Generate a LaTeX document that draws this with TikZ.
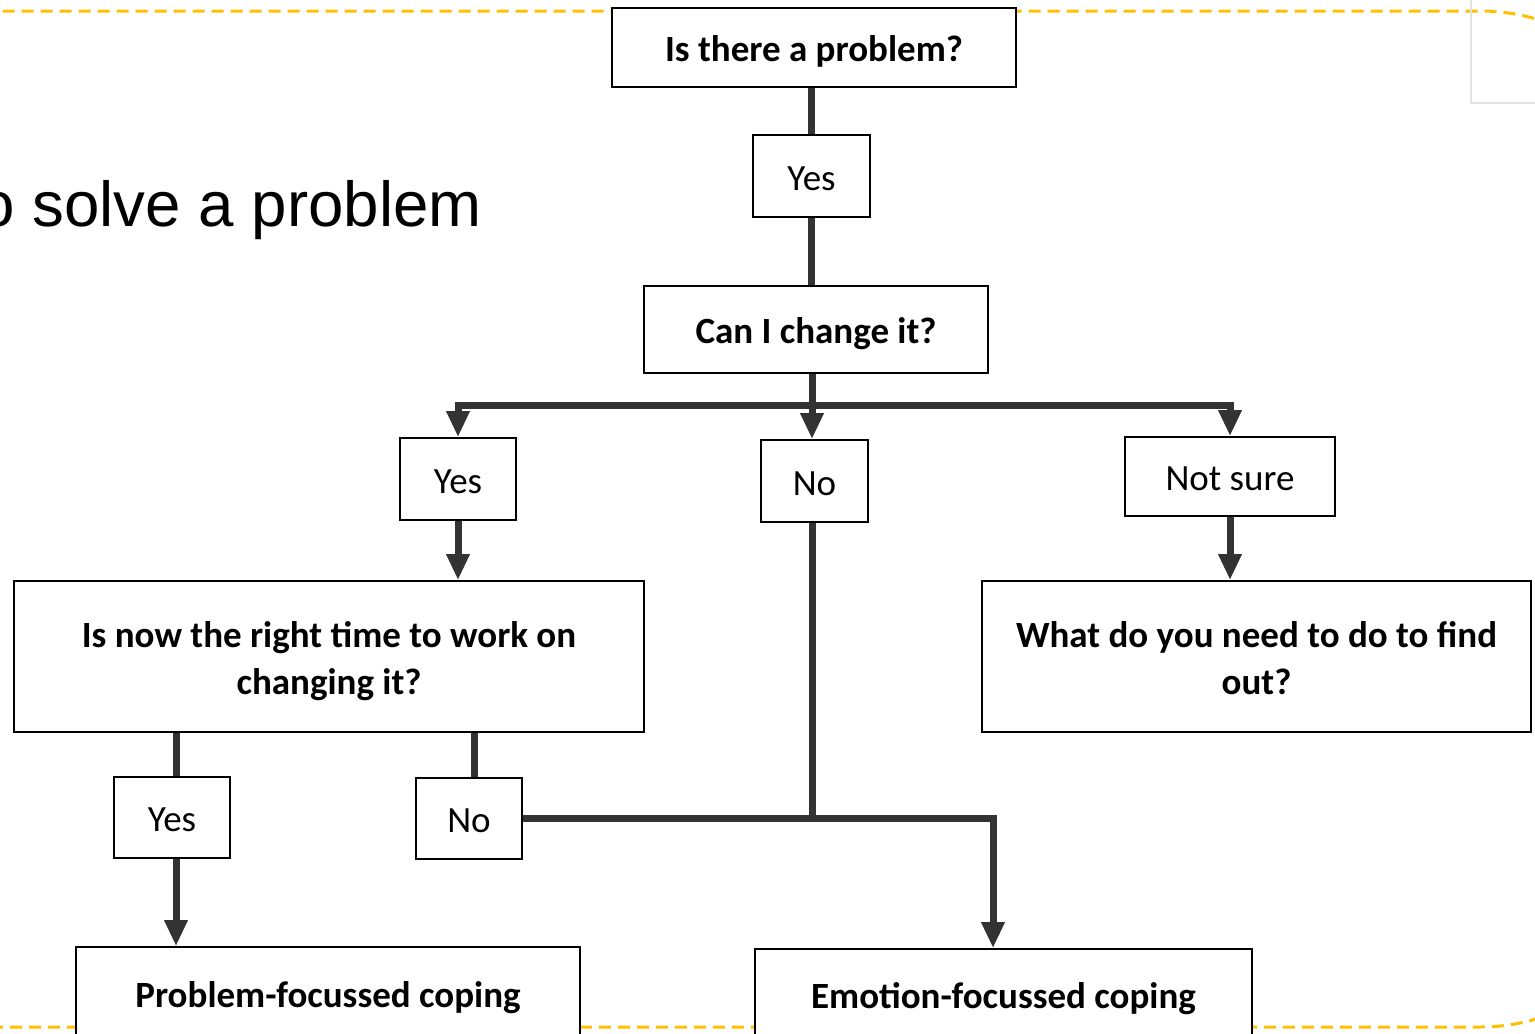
\documentclass[tikz,border=0pt]{standalone}
\usepackage{fontspec}
\setmainfont{Carlito}
\newfontfamily\headfont{Liberation Sans}
\usetikzlibrary{arrows.meta,positioning,calc}
\definecolor{ink}{HTML}{333333}
\definecolor{gold}{HTML}{FFC000}
\definecolor{linegray}{HTML}{E2E2E2}
\tikzset{
  box/.style={draw=black, line width=0.9pt, fill=white, align=center, inner sep=0pt, text height=17pt, text depth=3pt, font=\fontsize{18.5}{23.5}\selectfont},
  question/.style={box, font=\fontsize{18.5}{23.5}\selectfont\bfseries},
  twoline/.style={text height=41pt, text depth=3.2pt},
  answer/.style={box},
  title/.style={font=\headfont\fontsize{31.8}{38}\selectfont, inner sep=0pt},
  link/.style={line width=3.5pt, draw=ink},
  arrow/.style={link, -{Triangle[length=13pt,width=11pt]}},
  frame/.style={draw=gold, line width=1.5pt, dash pattern=on 6pt off 3.5pt, rounded corners=100pt},
  ghost/.style={draw=linegray, line width=1pt},
}

\begin{document}
\begin{tikzpicture}[x=0.5pt, y=-0.5pt]
\path[use as bounding box] (0,0) rectangle (1535,1033);
\clip (0,0) rectangle (1535,1033);
\draw[frame] (-400,11) rectangle (1680,1027);
\draw[ghost] (1471,-5) rectangle (1545,103);
\node[title, anchor=base east] (head) at (482,226) {o solve a problem};
% questions and answers
\node[question, minimum width=202pt, minimum height=39.5pt] (q1) at (814,47.5) {Is there a problem?};
\node[answer, minimum width=58.5pt, minimum height=41pt] (yes1) at (811.5,176) {Yes};
\node[question, minimum width=172pt, minimum height=43.5pt] (q2) at (816,329.5) {Can I change it?};
\node[answer, minimum width=58pt, minimum height=41pt] (yes2) at (458,479) {Yes};
\node[answer, minimum width=53.5pt, minimum height=41pt] (no2) at (814.5,481) {No};
\node[answer, minimum width=105pt, minimum height=39.5pt] (unsure) at (1230,476.5) {Not sure};
\node[question, twoline, minimum width=315pt, minimum height=75.5pt] (q3) at (329,656.5) {Is now the right time to work on\\changing it?};
\node[question, twoline, minimum width=274.5pt, minimum height=75.5pt] (q4) at (1256.5,656.5) {What do you need to do to find\\out?};
\node[answer, minimum width=58pt, minimum height=40.5pt] (yes3) at (172,817.5) {Yes};
\node[answer, minimum width=53pt, minimum height=40.5pt] (no3) at (469,818.5) {No};
\node[question, minimum width=252pt, minimum height=46pt] (pfc) at (328,993) {Problem-focussed coping};
\node[question, minimum width=248.5pt, minimum height=45pt] (efc) at (1003.5,994) {Emotion-focussed coping};
% connectors
\coordinate (split) at (812,405);
\coordinate (join) at (812,818.5);
\coordinate (bend) at (993,818.5);
\draw[link] (yes1.north |- q1.south) -- (yes1.north);
\draw[link] (yes1.south) -- (yes1.south |- q2.north);
\draw[link] (split |- q2.south) -- (split);
\draw[arrow] (split) -| (yes2.north);
\draw[arrow] (split) -- (split |- no2.north);
\draw[arrow] (split) -| (unsure.north);
\draw[arrow] (yes2.south) -- (yes2.south |- q3.north);
\draw[arrow] (unsure.south) -- (unsure.south |- q4.north);
\draw[link] (join |- no2.south) -- (join);
\draw[link] ([xshift=2pt]yes3.north |- q3.south) -- ([xshift=2pt]yes3.north);
\draw[link] ([xshift=2.5pt]no3.north |- q3.south) -- ([xshift=2.5pt]no3.north);
\draw[arrow] ([xshift=2pt]yes3.south) -- ([xshift=2pt]yes3.south |- pfc.north);
\draw[arrow] (no3.east) -- (bend) -- (bend |- efc.north);
\end{tikzpicture}
\end{document}
